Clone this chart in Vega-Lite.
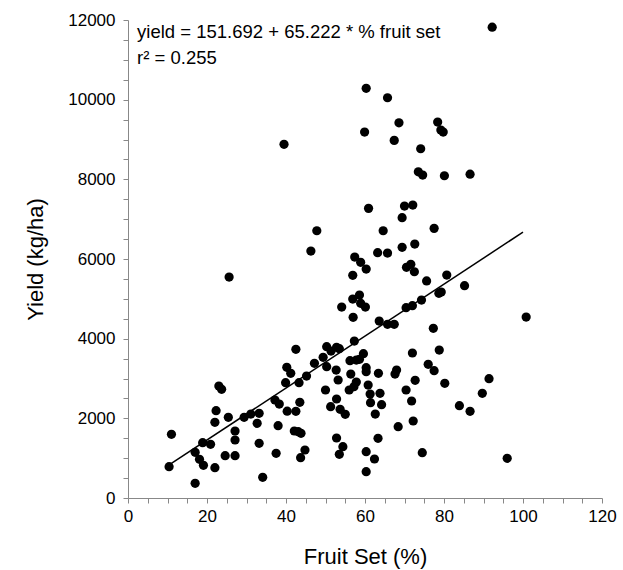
{
  "$schema": "https://vega.github.io/schema/vega-lite/v6.json",
  "autosize": "none",
  "width": 474,
  "height": 478,
  "padding": {"left": 128, "top": 20, "right": 21, "bottom": 72},
  "background": "white",
  "config": {"view": {"stroke": null}, "font": "Liberation Sans"},
  "datasets": {
    "pts": [
      {"fs":10.4,"yield":786},{"fs":11.0,"yield":1599},{"fs":17.0,"yield":1147},{"fs":17.0,"yield":369},
      {"fs":18.1,"yield":971},{"fs":18.9,"yield":1388},{"fs":19.1,"yield":821},{"fs":20.9,"yield":1348},
      {"fs":22.0,"yield":761},{"fs":22.0,"yield":1900},{"fs":22.3,"yield":2191},{"fs":23.0,"yield":2811},
      {"fs":23.7,"yield":2728},{"fs":24.6,"yield":1062},{"fs":25.4,"yield":2025},{"fs":25.6,"yield":5547},
      {"fs":27.1,"yield":1682},{"fs":27.1,"yield":1456},{"fs":27.1,"yield":1062},{"fs":29.4,"yield":2025},
      {"fs":31.1,"yield":2108},{"fs":32.7,"yield":1875},{"fs":33.2,"yield":2126},{"fs":33.2,"yield":1373},
      {"fs":34.1,"yield":520},{"fs":37.2,"yield":2460},{"fs":37.5,"yield":1122},{"fs":38.0,"yield":1815},
      {"fs":38.3,"yield":2359},{"fs":39.5,"yield":8878},{"fs":39.9,"yield":2894},{"fs":40.2,"yield":3280},
      {"fs":41.2,"yield":3129},{"fs":40.3,"yield":2180},{"fs":42.5,"yield":2176},{"fs":42.5,"yield":3732},
      {"fs":43.3,"yield":2894},{"fs":43.5,"yield":2402},{"fs":42.1,"yield":1682},{"fs":43.1,"yield":1664},
      {"fs":43.8,"yield":1624},{"fs":44.8,"yield":1205},{"fs":43.7,"yield":1012},{"fs":45.2,"yield":3062},
      {"fs":46.3,"yield":6200},{"fs":47.8,"yield":6709},{"fs":47.2,"yield":3381},{"fs":49.4,"yield":3531},
      {"fs":50.0,"yield":2711},{"fs":50.3,"yield":3798},{"fs":51.4,"yield":3690},{"fs":52.8,"yield":3782},
      {"fs":53.5,"yield":3748},{"fs":50.3,"yield":3296},{"fs":51.3,"yield":2292},{"fs":52.7,"yield":3213},
      {"fs":53.2,"yield":2962},{"fs":52.8,"yield":2485},{"fs":53.7,"yield":2226},{"fs":55.0,"yield":2101},
      {"fs":52.8,"yield":1506},{"fs":54.4,"yield":1288},{"fs":53.5,"yield":1097},{"fs":54.1,"yield":4794},
      {"fs":56.9,"yield":5590},{"fs":56.9,"yield":4995},{"fs":58.6,"yield":5095},{"fs":58.9,"yield":4887},
      {"fs":60.1,"yield":4794},{"fs":57.0,"yield":4535},{"fs":57.3,"yield":3941},{"fs":56.2,"yield":3446},
      {"fs":57.8,"yield":3464},{"fs":58.6,"yield":3481},{"fs":59.6,"yield":3622},{"fs":56.4,"yield":3112},
      {"fs":57.8,"yield":2912},{"fs":57.2,"yield":2794},{"fs":56.0,"yield":2711},{"fs":57.4,"yield":6049},
      {"fs":58.9,"yield":5916},{"fs":60.3,"yield":5748},{"fs":59.9,"yield":9187},{"fs":60.3,"yield":10284},
      {"fs":60.9,"yield":7271},{"fs":60.3,"yield":3271},{"fs":60.3,"yield":3170},{"fs":60.8,"yield":2836},
      {"fs":61.3,"yield":2610},{"fs":61.4,"yield":2392},{"fs":62.6,"yield":2108},{"fs":63.4,"yield":3129},
      {"fs":63.8,"yield":2628},{"fs":64.2,"yield":2342},{"fs":60.3,"yield":1162},{"fs":62.4,"yield":979},
      {"fs":60.3,"yield":660},{"fs":63.3,"yield":1498},{"fs":63.6,"yield":4443},{"fs":65.7,"yield":4360},
      {"fs":67.4,"yield":4360},{"fs":63.2,"yield":6158},{"fs":65.7,"yield":6150},{"fs":64.6,"yield":6709},
      {"fs":65.7,"yield":10048},{"fs":67.4,"yield":8978},{"fs":68.6,"yield":9420},{"fs":69.4,"yield":7036},
      {"fs":70.0,"yield":7329},{"fs":72.1,"yield":7354},{"fs":69.4,"yield":6293},{"fs":72.6,"yield":6375},
      {"fs":70.5,"yield":5790},{"fs":71.6,"yield":5866},{"fs":72.5,"yield":5680},{"fs":70.4,"yield":4777},
      {"fs":72.0,"yield":4827},{"fs":74.3,"yield":4970},{"fs":75.6,"yield":5450},{"fs":77.5,"yield":6769},
      {"fs":78.4,"yield":9438},{"fs":79.2,"yield":9237},{"fs":79.8,"yield":9187},{"fs":74.1,"yield":8768},
      {"fs":73.5,"yield":8190},{"fs":74.6,"yield":8107},{"fs":80.1,"yield":8090},{"fs":86.6,"yield":8130},
      {"fs":80.7,"yield":5597},{"fs":78.7,"yield":5138},{"fs":79.3,"yield":5171},{"fs":85.2,"yield":5329},
      {"fs":77.3,"yield":4260},{"fs":78.8,"yield":3715},{"fs":76.0,"yield":3356},{"fs":77.5,"yield":3196},
      {"fs":80.2,"yield":2879},{"fs":72.0,"yield":3640},{"fs":68.0,"yield":3213},{"fs":67.6,"yield":3112},
      {"fs":70.4,"yield":2711},{"fs":72.7,"yield":2954},{"fs":71.8,"yield":2435},{"fs":72.2,"yield":1933},
      {"fs":68.4,"yield":1790},{"fs":74.5,"yield":1137},{"fs":92.2,"yield":11820},{"fs":100.8,"yield":4543},
      {"fs":91.4,"yield":2995},{"fs":89.7,"yield":2628},{"fs":83.9,"yield":2317},{"fs":86.6,"yield":2176},
      {"fs":96.0,"yield":996}
    ],
    "fit": [{"fs":10.6,"yield":843},{"fs":100,"yield":6674}],
    "notes": [
      {"fs":2.3,"yield":11700,"label":"yield = 151.692 + 65.222 * % fruit set"},
      {"fs":2.3,"yield":11040,"label":"r² = 0.255"}
    ]
  },
  "resolve": {"axis": {"x": "independent", "y": "independent"}},
  "layer": [
    {
      "data": {"name": "pts"},
      "mark": {"type": "circle", "size": 85, "color": "black", "opacity": 1},
      "encoding": {
        "x": {"field": "fs", "type": "quantitative", "scale": {"domain": [0, 120], "nice": false},
          "axis": {"orient": "bottom", "values": [0,20,40,60,80,100,120], "title": "Fruit Set (%)", "grid": false,
            "labelFontSize": 17, "titleFontSize": 22, "titleFontWeight": "normal", "labelColor": "black", "titleColor": "black",
            "domainColor": "#888", "tickColor": "#888", "tickSize": 5, "labelPadding": 5, "titlePadding": 22, "labelFlush": false}},
        "y": {"field": "yield", "type": "quantitative", "scale": {"domain": [0, 12000], "nice": false},
          "axis": {"orient": "left", "values": [0,2000,4000,6000,8000,10000,12000], "title": "Yield (kg/ha)", "grid": false, "format": "d",
            "labelFontSize": 17, "titleFontSize": 22, "titleFontWeight": "normal", "labelColor": "black", "titleColor": "black",
            "domainColor": "#888", "tickColor": "#888", "tickSize": 5, "labelPadding": 8, "titlePadding": 20, "labelFlush": false}}
      }
    },
    {
      "data": {"name": "fit"},
      "mark": {"type": "line", "color": "black", "strokeWidth": 1.5},
      "encoding": {
        "x": {"field": "fs", "type": "quantitative",
          "axis": {"orient": "bottom", "values": [5,10,15,25,30,35,45,50,55,65,70,75,85,90,95,105,110,115], "labels": false, "title": null, "domain": false, "grid": false, "tickColor": "#888", "tickSize": 5}},
        "y": {"field": "yield", "type": "quantitative",
          "axis": {"orient": "left", "values": [500,1000,1500,2500,3000,3500,4500,5000,5500,6500,7000,7500,8500,9000,9500,10500,11000,11500], "labels": false, "title": null, "domain": false, "grid": false, "tickColor": "#888", "tickSize": 5}}
      }
    },
    {
      "data": {"name": "notes"},
      "mark": {"type": "text", "align": "left", "baseline": "middle", "fontSize": 18.5, "color": "black"},
      "encoding": {
        "x": {"field": "fs", "type": "quantitative", "axis": null},
        "y": {"field": "yield", "type": "quantitative", "axis": null},
        "text": {"field": "label"}
      }
    }
  ]
}
